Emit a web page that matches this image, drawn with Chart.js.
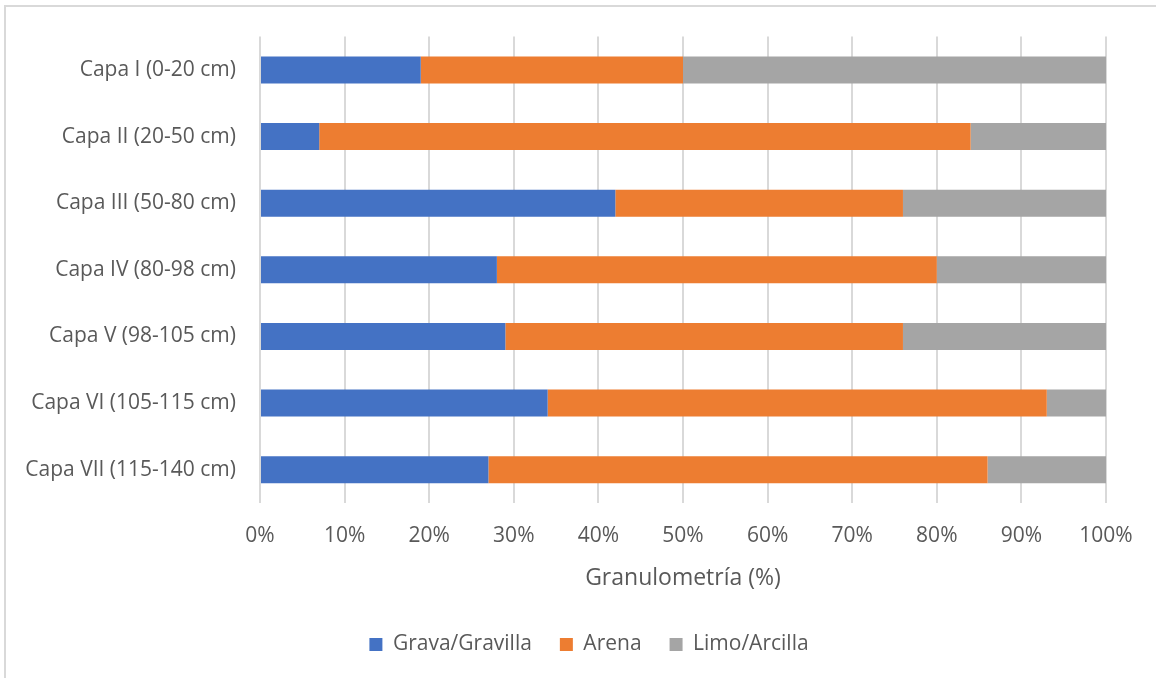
<!DOCTYPE html>
<html><head><meta charset="utf-8">
<script src="https://cdn.jsdelivr.net/npm/chart.js@4/dist/chart.umd.min.js"></script>
<style>
html,body{margin:0;padding:0;background:#fff;}
#wrap{position:relative;width:1156px;height:678px;overflow:hidden;background:#fff;}
#frame{position:absolute;left:4px;top:5px;width:1200px;height:700px;border-top:2px solid #d9d9d9;border-left:2px solid #d9d9d9;box-sizing:border-box;pointer-events:none;}
canvas{position:absolute;left:0;top:0;}
</style></head>
<body><div id="wrap"><canvas id="c" width="1156" height="678"></canvas><div id="frame"></div></div>
<script>
const categories = ["Capa I (0-20 cm)","Capa II (20-50 cm)","Capa III (50-80 cm)","Capa IV (80-98 cm)","Capa V (98-105 cm)","Capa VI (105-115 cm)","Capa VII (115-140 cm)"];
const seriesNames = ["Grava/Gravilla","Arena","Limo/Arcilla"];
const gravaValues = [19,7,42,28,29,34,27];
const arenaValues = [31,77,34,52,47,59,59];
const limoValues = [50,16,24,20,24,7,14];
const xTickValues = [0,10,20,30,40,50,60,70,80,90,100];
const xAxisTitle = "Granulometría (%)";

const colors = ["#4472C4","#ED7D31","#A5A5A5"];
const textColor = "#595959";
const font = "'Open Sans', 'Noto Sans', sans-serif";

const seriesValues = [gravaValues, arenaValues, limoValues];
const datasets = seriesNames.map((n,i)=>({
  label:n, data:seriesValues[i], backgroundColor:colors[i], borderWidth:0,
  barPercentage:0.405, categoryPercentage:1
}));

const legendShift = {
  id:'legendShift',
  afterLayout(chart){ const l = chart.legend; if(l){ l.left += 36; l.right += 36; } }
};

new Chart(document.getElementById('c'), {
  type:'bar',
  data:{labels:categories, datasets},
  plugins:[legendShift],
  options:{
    indexAxis:'y', responsive:false, animation:false, devicePixelRatio:1,
    layout:{padding:{top:35,right:50,left:0,bottom:13}},
    plugins:{
      tooltip:{enabled:false},
      legend:{position:'bottom',
        labels:{boxWidth:13,boxHeight:13,padding:28,color:textColor,font:{family:font,size:21}}}
    },
    scales:{
      x:{stacked:true,min:0,max:100,
        afterBuildTicks:(s)=>{s.ticks = xTickValues.map(v=>({value:v}));},
        ticks:{callback:(v)=>v+'%',color:textColor,font:{family:font,size:21},padding:20,maxRotation:0,autoSkip:false},
        grid:{color:'#d9d9d9',lineWidth:2,drawTicks:false,tickLength:0},
        border:{display:false},
        title:{display:true,text:xAxisTitle,color:textColor,font:{family:font,size:23},padding:{top:8,bottom:14}},
        afterFit:(s)=>{s.height=103;}
      },
      y:{stacked:true,
        ticks:{color:textColor,font:{family:font,size:21},padding:24},
        grid:{display:false,drawTicks:false},
        border:{display:false},
        afterFit:(s)=>{s.width=260;}
      }
    }
  }
});
</script></body></html>
